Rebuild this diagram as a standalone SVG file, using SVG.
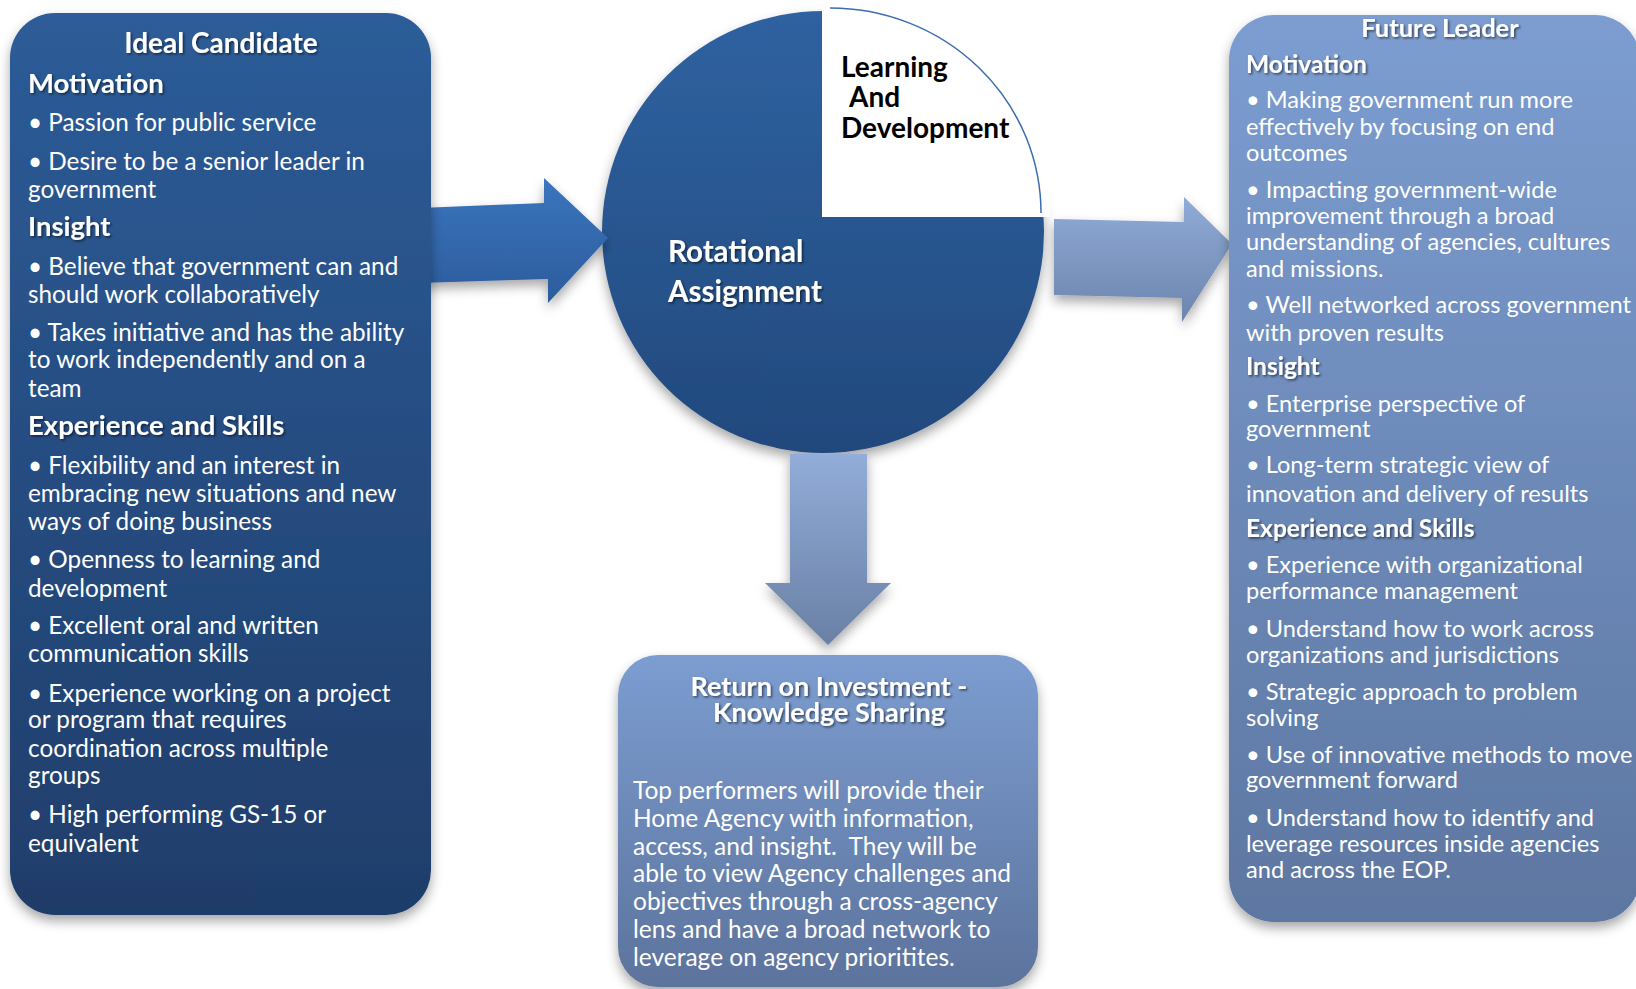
<svg xmlns="http://www.w3.org/2000/svg" width="1636" height="989" viewBox="0 0 1636 989">
<defs>
<linearGradient id="gLeft" x1="0" y1="0" x2="0" y2="1"><stop offset="0" stop-color="#2d5c98"/><stop offset="1" stop-color="#1f3d6a"/></linearGradient>
<linearGradient id="gCircle" x1="0" y1="0" x2="0" y2="1"><stop offset="0" stop-color="#2f62a1"/><stop offset="1" stop-color="#22497d"/></linearGradient>
<linearGradient id="gArrowL" x1="0" y1="0" x2="0" y2="1"><stop offset="0" stop-color="#3b75be"/><stop offset="1" stop-color="#2b5c9c"/></linearGradient>
<linearGradient id="gArrowR" x1="0" y1="0" x2="0" y2="1"><stop offset="0" stop-color="#90abd7"/><stop offset="1" stop-color="#6c85ae"/></linearGradient>
<linearGradient id="gArrowD" x1="0" y1="0" x2="0" y2="1"><stop offset="0" stop-color="#92add9"/><stop offset="1" stop-color="#6a80a5"/></linearGradient>
<linearGradient id="gLight" x1="0" y1="0" x2="0" y2="1"><stop offset="0" stop-color="#7c9dd1"/><stop offset="1" stop-color="#5d77a1"/></linearGradient>
<linearGradient id="gBottom" x1="0" y1="0" x2="0" y2="1"><stop offset="0" stop-color="#7c9dd1"/><stop offset="1" stop-color="#5c739c"/></linearGradient>
<filter id="shadow" x="-10%" y="-10%" width="120%" height="125%"><feDropShadow dx="0" dy="6" stdDeviation="6" flood-color="#000" flood-opacity="0.35"/></filter>
<filter id="tshadow" x="-5%" y="-20%" width="110%" height="150%"><feDropShadow dx="1.5" dy="1.5" stdDeviation="1" flood-color="#000" flood-opacity="0.55"/></filter>
</defs>
<style>
text { font-family: Lato, "Liberation Sans", sans-serif; }
.h { font-weight: bold; fill: #fff; filter: url(#tshadow); }
.hl { font-size: 27.5px; }
.bl { font-size: 24.3px; fill: #fff; }
.hr { font-size: 24.5px; }
.br { font-size: 23.6px; fill: #fff; }
.bb { font-size: 24.5px; fill: #fff; }
.dark { font-size: 28px; font-weight: bold; fill: #000; }
</style>
<rect width="1636" height="989" fill="#fff"/>

<g id="node-rotational">
<circle cx="823" cy="232" r="221" fill="url(#gCircle)" filter="url(#shadow)"/>
<rect x="822" y="0" width="228" height="217" fill="#fff"/>
<path d="M830 8 A211 205 0 0 1 1041 213" fill="none" stroke="#3a6db0" stroke-width="1.5"/>
<text class="dark" x="841" y="77">Learning</text>
<text class="dark" x="849" y="107">And</text>
<text class="dark" x="841" y="138">Development</text>
<text class="h" x="668" y="262" font-size="29.5">Rotational</text>
<text class="h" x="668" y="302" font-size="29.5">Assignment</text>
</g>

<g id="connectors">
<path d="M790 454 L867 454 L867 583 L891 583 L828 645 L765 583 L790 583 Z" fill="url(#gArrowD)" filter="url(#shadow)"/>
<path d="M1054 219 L1184 222 L1184 197 L1232 244 L1182 322 L1182 298 L1054 295 Z" fill="url(#gArrowR)" filter="url(#shadow)"/>
<path d="M420 208 L544 203 L544 178 L608 238 L548 303 L548 279 L420 283 Z" fill="url(#gArrowL)" filter="url(#shadow)"/>
</g>

<g id="node-ideal-candidate">
<rect x="10" y="13" width="421" height="902" rx="45" fill="url(#gLeft)" filter="url(#shadow)"/>
<text class="h" x="221" y="53" font-size="28" text-anchor="middle">Ideal Candidate</text>
<text class="h hl" x="28" y="93">Motivation</text>
<text class="bl" x="28" y="131">• Passion for public service</text>
<text class="bl" x="28" y="170">• Desire to be a senior leader in</text>
<text class="bl" x="28" y="198">government</text>
<text class="h hl" x="28" y="236">Insight</text>
<text class="bl" x="28" y="275">• Believe that government can and</text>
<text class="bl" x="28" y="303">should work collaboratively</text>
<text class="bl" x="28" y="341">• Takes initiative and has the ability</text>
<text class="bl" x="28" y="368">to work independently and on a</text>
<text class="bl" x="28" y="397">team</text>
<text class="h hl" x="28" y="435">Experience and Skills</text>
<text class="bl" x="28" y="474">• Flexibility and an interest in</text>
<text class="bl" x="28" y="502">embracing new situations and new</text>
<text class="bl" x="28" y="530">ways of doing business</text>
<text class="bl" x="28" y="568">• Openness to learning and</text>
<text class="bl" x="28" y="597">development</text>
<text class="bl" x="28" y="634">• Excellent oral and written</text>
<text class="bl" x="28" y="662">communication skills</text>
<text class="bl" x="28" y="702">• Experience working on a project</text>
<text class="bl" x="28" y="728">or program that requires</text>
<text class="bl" x="28" y="757">coordination across multiple</text>
<text class="bl" x="28" y="784">groups</text>
<text class="bl" x="28" y="823">• High performing GS-15 or</text>
<text class="bl" x="28" y="852">equivalent</text>
</g>

<g id="node-future-leader">
<rect x="1229" y="15" width="411" height="907" rx="45" fill="url(#gLight)" filter="url(#shadow)"/>
<text class="h" x="1440" y="37" font-size="25.5" text-anchor="middle">Future Leader</text>
<text class="h hr" x="1246" y="73">Motivation</text>
<text class="br" x="1246" y="108">• Making government run more</text>
<text class="br" x="1246" y="135">effectively by focusing on end</text>
<text class="br" x="1246" y="161">outcomes</text>
<text class="br" x="1246" y="198">• Impacting government-wide</text>
<text class="br" x="1246" y="224">improvement through a broad</text>
<text class="br" x="1246" y="250">understanding of agencies, cultures</text>
<text class="br" x="1246" y="277">and missions.</text>
<text class="br" x="1246" y="313">• Well networked across government</text>
<text class="br" x="1246" y="341">with proven results</text>
<text class="h hr" x="1246" y="375">Insight</text>
<text class="br" x="1246" y="412">• Enterprise perspective of</text>
<text class="br" x="1246" y="437">government</text>
<text class="br" x="1246" y="473">• Long-term strategic view of</text>
<text class="br" x="1246" y="502">innovation and delivery of results</text>
<text class="h hr" x="1246" y="537">Experience and Skills</text>
<text class="br" x="1246" y="573">• Experience with organizational</text>
<text class="br" x="1246" y="599">performance management</text>
<text class="br" x="1246" y="637">• Understand how to work across</text>
<text class="br" x="1246" y="663">organizations and jurisdictions</text>
<text class="br" x="1246" y="700">• Strategic approach to problem</text>
<text class="br" x="1246" y="726">solving</text>
<text class="br" x="1246" y="763">• Use of innovative methods to move</text>
<text class="br" x="1246" y="788">government forward</text>
<text class="br" x="1246" y="826">• Understand how to identify and</text>
<text class="br" x="1246" y="852">leverage resources inside agencies</text>
<text class="br" x="1246" y="878">and across the EOP.</text>
</g>

<g id="node-roi">
<rect x="618" y="655" width="420" height="332" rx="40" fill="url(#gBottom)" filter="url(#shadow)"/>
<text class="h" x="829" y="696" font-size="27" text-anchor="middle">Return on Investment -</text>
<text class="h" x="829" y="722" font-size="27" text-anchor="middle">Knowledge Sharing</text>
<text class="bb" x="633" y="799">Top performers will provide their</text>
<text class="bb" x="633" y="827">Home Agency with information,</text>
<text class="bb" x="633" y="855" xml:space="preserve">access, and insight.  They will be</text>
<text class="bb" x="633" y="882">able to view Agency challenges and</text>
<text class="bb" x="633" y="910">objectives through a cross-agency</text>
<text class="bb" x="633" y="938">lens and have a broad network to</text>
<text class="bb" x="633" y="966">leverage on agency prioritites.</text>
</g>
</svg>
